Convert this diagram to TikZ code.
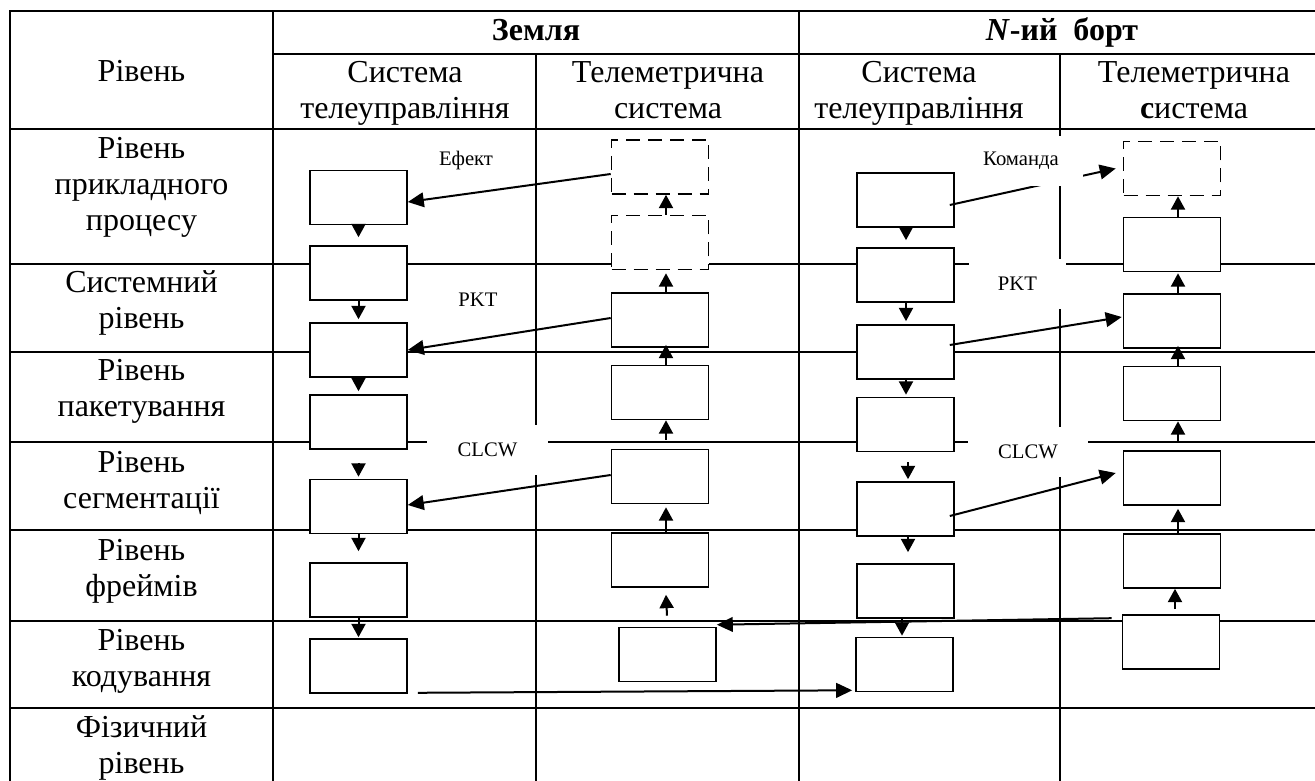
\documentclass[tikz,border=0pt]{standalone}
\usepackage{fontspec}
\setmainfont{Liberation Serif}
\usetikzlibrary{arrows.meta,calc}

% centred lines whose baseline is the first line
\newcommand\rows[1]{\vtop{\halign{\hfil##\hfil\cr#1\crcr}}}

\begin{document}
\begin{tikzpicture}[x=0.75pt,y=-0.75pt,
  rule/.style={line width=1.2pt},
  blk/.style={draw, fill=white, line width=1.2pt, inner sep=0pt,
              minimum width=72.75pt, minimum height=40.5pt},
  ghost/.style={blk, dash pattern=on 10.5pt off 6pt},
  big/.style={font=\fontsize{24}{27}\selectfont, inner sep=0pt, anchor=base},
  bigbold/.style={big, font=\fontsize{24}{27}\selectfont\bfseries},
  tag/.style={fill=white, inner sep=0pt, font=\fontsize{15.5}{18}\selectfont},
  flow/.style={line width=1.5pt, -{Triangle[length=10pt,width=10.5pt]}},
  link/.style={line width=1.5pt, -{Triangle[length=12pt,width=11pt]}},
]
\useasboundingbox (0,0) rectangle (1315,781);

% ---- table rules
\draw[rule] (10,781) -- (10,11) -- (1315,11);
\draw[rule] (273,11) -- (273,781);
\draw[rule] (799,11) -- (799,781);
\draw[rule] (536,54) -- (536,781);
\draw[rule] (1060,54) -- (1060,781);
\draw[rule] (273,54) -- (1315,54);
\foreach \yy in {129,264,352,442,530,621,708}
  \draw[rule] (10,\yy) -- (1315,\yy);

% ---- header
\node[big] (hLevel) at (141.5,82) {Рівень};
\node[bigbold] (hGround) at (536,41) {Земля};
\node[bigbold] (hBoard) at (1062,41) {\textit{N}-ий\ \ борт};
\node[big] (hTC1) at (405,83) {\rows{Система\cr телеуправління}};
\node[big] (hTM1) at (668,83) {\rows{Телеметрична\cr система}};
\node[big] (hTC2) at (919,83) {\rows{Система\cr телеуправління}};
\node[big] (hTM2) at (1194,83) {\rows{Телеметрична\cr \textbf{с}истема}};

% ---- level names
\node[big] (r1) at (141.5,159) {\rows{Рівень\cr прикладного\cr процесу}};
\node[big] (r2) at (141.5,293) {\rows{Системний\cr рівень}};
\node[big] (r3) at (141.5,380) {\rows{Рівень\cr пакетування}};
\node[big] (r4) at (141.5,472) {\rows{Рівень\cr сегментації}};
\node[big] (r5) at (141.5,560) {\rows{Рівень\cr фреймів}};
\node[big] (r6) at (141.5,650) {\rows{Рівень\cr кодування}};
\node[big] (r7) at (141.5,737) {\rows{Фізичний\cr рівень}};

% ---- ground: telecommand stack
\node[blk] (B1) at (358.5,197.5) {};
\node[blk] (B2) at (358.5,273) {};
\node[blk] (B3) at (358.5,350) {};
\node[blk] (B4) at (358.5,422) {};
\node[blk] (B5) at (358.5,506.5) {};
\node[blk] (B6) at (358.5,590) {};
\node[blk] (B7) at (358.5,666) {};

% ---- ground: telemetry stack
\node[ghost] (D1) at (660,167) {};
\node[ghost] (D2) at (660,242.5) {};
\node[blk] (T3) at (660,320) {};
\node[blk] (T4) at (660,392.5) {};
\node[blk] (T5) at (660,476.5) {};
\node[blk] (T6) at (660,560) {};
\node[blk] (T7) at (667.5,654.5) {};

% ---- board: telecommand stack
\node[blk] (C1) at (905.5,200) {};
\node[blk] (C2) at (905.5,275) {};
\node[blk] (C3) at (905.5,352) {};
\node[blk] (C4) at (905.5,424.5) {};
\node[blk] (C5) at (905.5,509) {};
\node[blk] (C6) at (905.5,591) {};
\node[blk] (C7) at (904.5,664.5) {};

% ---- board: telemetry stack
\node[ghost] (E1) at (1172,168.5) {};
\node[blk] (E2) at (1172,244.5) {};
\node[blk] (E3) at (1172,321) {};
\node[blk] (E4) at (1172,393.5) {};
\node[blk] (E5) at (1172,478) {};
\node[blk] (E6) at (1172,561) {};
\node[blk] (E7) at (1171,642) {};

% ---- downward flow, telecommand
\draw[flow] (B1.south) -- ($(B2.north)+(0,-8)$);
\draw[flow] (B2.south) -- ($(B3.north)+(0,-3)$);
\draw[flow] (B3.south) -- ($(B4.north)+(0,-3)$);
\draw[flow] ($(B4.south)+(0,13)$) -- ($(B5.north)+(0,-2)$);
\draw[flow] (B5.south) -- ($(B6.north)+(0,-11)$);
\draw[flow] (B6.south) -- ($(B7.north)+(0,-1)$);

\draw[flow] ($(C1.south)+(0.5,0)$) -- ($(C2.north)+(0.5,-7)$);
\draw[flow] ($(C2.south)+(0.5,0)$) -- ($(C3.north)+(0.5,-3)$);
\draw[flow] ($(C3.south)+(0.5,0)$) -- ($(C4.north)+(0.5,-2)$);
\draw[flow] ($(C4.south)+(2.5,10)$) -- ($(C5.north)+(2.5,-2)$);
\draw[flow] ($(C5.south)+(2.5,0)$) -- ($(C6.north)+(2.5,-11)$);
\draw[flow] ($(C6.south)+(-3.5,0)$) -- ($(C7.north)+(-2.5,-1)$);

% ---- upward flow, telemetry
\draw[flow] ($(D2.north)+(6,0)$) -- ($(D1.south)+(6,0)$);
\draw[flow] ($(T3.north)+(6,0)$) -- ($(D2.south)+(6,3)$);
\draw[flow] ($(T4.north)+(6,0)$) -- ($(T3.south)+(6,-3)$);
\draw[flow] ($(T5.north)+(6,-9)$) -- ($(T4.south)+(6,0)$);
\draw[flow] ($(T6.north)+(6,0)$) -- ($(T5.south)+(6,3)$);
\draw[flow] ($(T7.north)+(-0.5,-11)$) -- ($(T6.south)+(6,7)$);

\draw[flow] ($(E2.north)+(6,0)$) -- ($(E1.south)+(6,0)$);
\draw[flow] ($(E3.north)+(6,0)$) -- ($(E2.south)+(6,1)$);
\draw[flow] ($(E4.north)+(6,0)$) -- ($(E3.south)+(6,-3)$);
\draw[flow] ($(E5.north)+(6,-9)$) -- ($(E4.south)+(6,0)$);
\draw[flow] ($(E6.north)+(6,0)$) -- ($(E5.south)+(6,3)$);
\draw[flow] ($(E7.north)+(4,-5)$) -- ($(E6.south)+(3,0)$);

% ---- links between the sides
\draw[link] ($(D1.west)+(0,7)$) -- ($(B1.east)+(0,4.5)$);
\draw[link] ($(T3.west)+(0,-2)$) -- (B3.east);
\draw[link] ($(T5.west)+(0,-1.5)$) -- ($(B5.east)+(0,-1.5)$);
\draw[link] ($(C1.east)+(-5,5)$) -- ($(E1.west)+(-7,0)$);
\draw[link] ($(C3.east)+(-5,-7)$) -- ($(E3.west)+(-1,-4)$);
\draw[link] ($(C5.east)+(-5,7)$) -- ($(E5.west)+(-7,-5)$);
\draw[link] ($(E7.north west)+(-10,4)$) -- ($(T7.north east)+(0,-2)$);
\draw[link] ($(B7.south east)+(10,-1)$) -- ($(C7.south west)+(-3,-2)$);

% ---- link captions on white patches
\node[tag, minimum width=72.75pt, minimum height=37.5pt] (lEf) at (466,161) {Ефект};
\node[tag, minimum width=72.75pt, minimum height=37.5pt] (lPkt1) at (478,300) {PKT};
\node[tag, minimum width=90.75pt, minimum height=37.5pt] (lClcw1) at (487.5,450) {CLCW};
\node[tag, minimum width=93pt, minimum height=37.5pt] (lCmd) at (1021,161) {Команда};
\node[tag, minimum width=72.75pt, minimum height=37.5pt] (lPkt2) at (1017.5,284) {PKT};
\node[tag, minimum width=90pt, minimum height=37.5pt] (lClcw2) at (1028,452) {CLCW};
\end{tikzpicture}
\end{document}
